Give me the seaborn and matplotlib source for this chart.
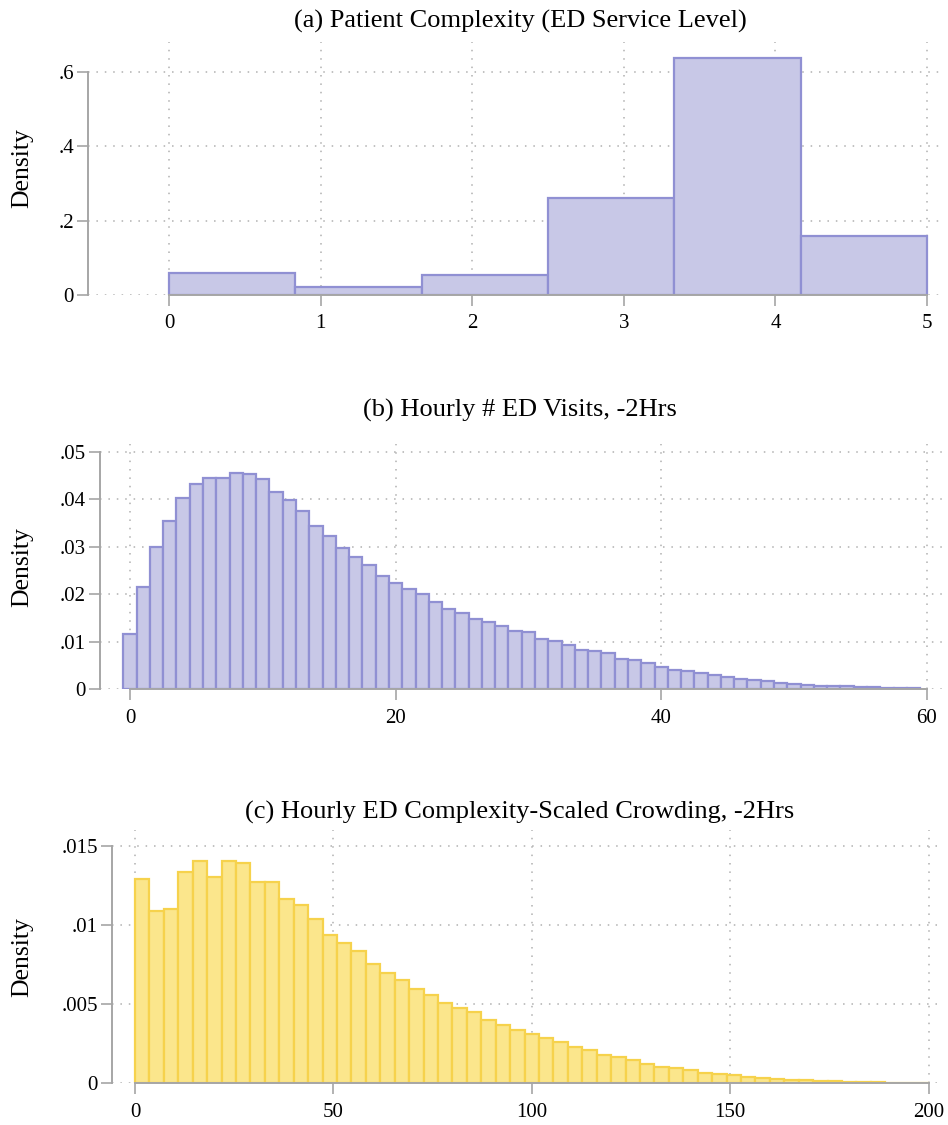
import numpy as np
import pandas as pd
import matplotlib
matplotlib.use("Agg")
import matplotlib.pyplot as plt
import seaborn as sns

sns.set_theme(style="white")
plt.rcParams['font.family'] = ['Liberation Serif', 'DejaVu Serif']
plt.rcParams['text.color'] = 'black'
plt.rcParams['axes.labelcolor'] = 'black'

# ---------------- data ----------------
# (a) Patient complexity (ED service level), 6 bins over 0..5
complexity_levels = [0, 1, 2, 3, 4, 5]
complexity_density = [0.059, 0.022, 0.054, 0.261, 0.638, 0.159]

# (b) Hourly # ED visits, -2Hrs (discrete, 0..59)
visits_values = list(range(60))
visits_density = [
    0.01164, 0.02146, 0.03001, 0.03548, 0.04025, 0.04320, 0.04453, 0.04439, 0.04558, 0.04530,
    0.04425, 0.04144, 0.03990, 0.03752, 0.03436, 0.03226, 0.02966, 0.02777, 0.02623, 0.02391,
    0.02244, 0.02104, 0.01999, 0.01837, 0.01697, 0.01613, 0.01487, 0.01424, 0.01332, 0.01234,
    0.01199, 0.01066, 0.01017, 0.00926, 0.00835, 0.00799, 0.00757, 0.00645, 0.00610, 0.00547,
    0.00470, 0.00414, 0.00386, 0.00344, 0.00295, 0.00252, 0.00217, 0.00196, 0.00182, 0.00140,
    0.00112, 0.00091, 0.00077, 0.00077, 0.00063, 0.00049, 0.00042, 0.00035, 0.00028, 0.00021,
]

# (c) Hourly ED complexity-scaled crowding, -2Hrs (55 bins over 0..200)
crowding_range = (0, 200)
crowding_nbins = 55
crowding_density = [
    0.01294, 0.01091, 0.01100, 0.01334, 0.01407, 0.01306, 0.01403, 0.01391, 0.01271, 0.01273,
    0.01167, 0.01129, 0.01039, 0.00938, 0.00889, 0.00834, 0.00752, 0.00700, 0.00653, 0.00596,
    0.00556, 0.00510, 0.00476, 0.00451, 0.00400, 0.00369, 0.00339, 0.00314, 0.00289, 0.00259,
    0.00232, 0.00213, 0.00177, 0.00164, 0.00147, 0.00124, 0.00103, 0.00097, 0.00082, 0.00065,
    0.00059, 0.00051, 0.00042, 0.00036, 0.00029, 0.00023, 0.00019, 0.00015, 0.00013, 0.00011,
    0.00008, 0.00006, 0.00004, 0.00003, 0.00002,
]

titles = ["(a) Patient Complexity (ED Service Level)",
          "(b) Hourly # ED Visits, -2Hrs",
          "(c) Hourly ED Complexity-Scaled Crowding, -2Hrs"]

a_xticks = [0, 1, 2, 3, 4, 5]
a_yticks = [0, 0.2, 0.4, 0.6]
a_ylabels = ["0", ".2", ".4", ".6"]
b_xticks = [0, 20, 40, 60]
b_yticks = [0, 0.01, 0.02, 0.03, 0.04, 0.05]
b_ylabels = ["0", ".01", ".02", ".03", ".04", ".05"]
c_xticks = [0, 50, 100, 150, 200]
c_yticks = [0, 0.005, 0.01, 0.015]
c_ylabels = ["0", ".005", ".01", ".015"]

# ---------------- styling ----------------
W, H = 948, 1125
fig = plt.figure(figsize=(W / 100, H / 100), dpi=100)

PURPLE_FILL = "#c8c8e7"
PURPLE_EDGE = "#9090d3"
YELLOW_FILL = "#fbe68c"
YELLOW_EDGE = "#f6d24c"
AX_GRAY = "#a6a6a6"
GRID_GRAY = "#b0b0b0"


def px_axes(left, right, top, bottom):
    return fig.add_axes([left / W, 1 - bottom / H, (right - left) / W, (bottom - top) / H])


def style(ax, xticks, yticks, ylabels, xlim, ylim, left_px, right_px):
    ax.set_xlim(*xlim)
    ax.set_ylim(*ylim)
    ax.set_axisbelow(True)
    ax.set_xticks(xticks)
    ax.set_xticklabels([str(t) for t in xticks])
    ax.set_yticks(yticks)
    ax.set_yticklabels(ylabels)
    for s in ["top", "right"]:
        ax.spines[s].set_visible(False)
    for s in ["left", "bottom"]:
        ax.spines[s].set_color(AX_GRAY)
        ax.spines[s].set_linewidth(1.4)
    ax.spines["left"].set_bounds(yticks[0], yticks[-1])
    ax.spines["bottom"].set_bounds(xticks[0], xticks[-1])
    ax.tick_params(axis="both", which="major", direction="out", length=8, width=1.2,
                   color=AX_GRAY, labelsize=15, labelcolor="black",
                   bottom=True, left=True)
    ax.tick_params(axis="y", pad=2)
    ax.tick_params(axis="x", pad=6)
    ax.grid(True, axis="both", color=GRID_GRAY, linestyle=(0, (1, 4.5)), linewidth=1.1)
    ax.set_xlabel("")
    ax.set_ylabel("Density", fontsize=18.5, va="center", color="black")
    ax.yaxis.set_label_coords((22 - left_px) / (right_px - left_px), 0.5)


def hist(ax, xs, ws, edges, fill, edge):
    df = pd.DataFrame({"x": xs, "w": ws})
    sns.histplot(data=df, x="x", weights="w", bins=list(edges), stat="count",
                 color=fill, edgecolor=edge, linewidth=1.6, alpha=1, ax=ax)


# ---- (a)
axa = px_axes(88, 942, 42, 295)
a_edges = np.linspace(0, 5, 7)
hist(axa, complexity_levels, complexity_density, a_edges, PURPLE_FILL, PURPLE_EDGE)
style(axa, a_xticks, a_yticks, a_ylabels, (-0.534, 5.099), (0, 0.681), 88, 942)

# ---- (b)
axb = px_axes(100, 942, 444, 689.3)
b_edges = np.arange(-0.5, 60.5, 1)
hist(axb, visits_values, visits_density, b_edges, PURPLE_FILL, PURPLE_EDGE)
style(axb, b_xticks, b_yticks, b_ylabels, (-2.26, 61.15), (0, 0.05164), 100, 942)

# ---- (c)
axc = px_axes(112, 942, 830, 1083.3)
c_edges = np.linspace(crowding_range[0], crowding_range[1], crowding_nbins + 1)
c_centers = (c_edges[:-1] + c_edges[1:]) / 2
hist(axc, c_centers, crowding_density, c_edges, YELLOW_FILL, YELLOW_EDGE)
style(axc, c_xticks, c_yticks, c_ylabels, (-5.80, 203.4), (0, 0.01601), 112, 942)

# titles
for title, ypx in zip(titles, [21, 410, 812]):
    fig.text(520 / W, 1 - ypx / H, title, ha="center", va="center", fontsize=19, color="black")

fig.savefig("out.png", dpi=100, facecolor="white")
